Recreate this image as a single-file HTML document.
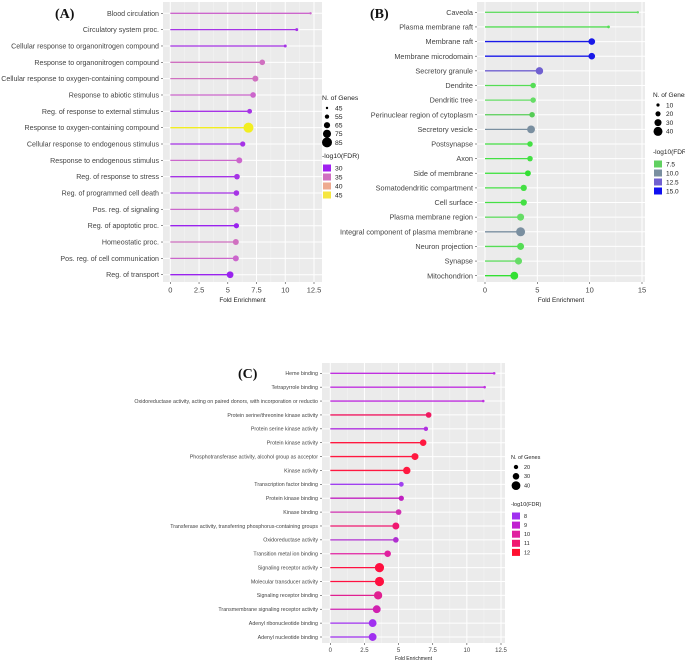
<!DOCTYPE html>
<html><head><meta charset="utf-8"><style>
body{margin:0;background:#fff}
svg{display:block;font-family:"Liberation Sans",sans-serif}
</style></head><body>
<svg id="s" width="685" height="664" viewBox="0 0 685 664"></svg>
<script>
// Panel A data
const catsA=["Blood circulation","Circulatory system proc.","Cellular response to organonitrogen compound","Response to organonitrogen compound","Cellular response to oxygen-containing compound","Response to abiotic stimulus","Reg. of response to external stimulus","Response to oxygen-containing compound","Cellular response to endogenous stimulus","Response to endogenous stimulus","Reg. of response to stress","Reg. of programmed cell death","Pos. reg. of signaling","Reg. of apoptotic proc.","Homeostatic proc.","Pos. reg. of cell communication","Reg. of transport"];
const foldA=[12.2,11.0,10.0,8.0,7.4,7.2,6.9,6.8,6.3,6.0,5.8,5.75,5.75,5.75,5.7,5.7,5.2];
const genesA=[45,48,48,62,64,62,58,85,60,64,62,62,64,60,64,64,68];
const colA=["#cc66cc","#a633e6","#a633e6","#d070c0","#d070c0","#cc66cc","#a633e6","#f2ee20","#a633e6","#cc66cc","#a633e6","#a633e6","#cc66cc","#9922ee","#d070c0","#cc66cc","#9922ee"];
const ticksA=[0,2.5,5,7.5,10,12.5];
// Panel B data
const catsB=["Caveola","Plasma membrane raft","Membrane raft","Membrane microdomain","Secretory granule","Dendrite","Dendritic tree","Perinuclear region of cytoplasm","Secretory vesicle","Postsynapse","Axon","Side of membrane","Somatodendritic compartment","Cell surface","Plasma membrane region","Integral component of plasma membrane","Neuron projection","Synapse","Mitochondrion"];
const foldB=[14.6,11.8,10.2,10.2,5.2,4.6,4.6,4.5,4.4,4.3,4.3,4.1,3.7,3.7,3.4,3.4,3.4,3.2,2.8];
const genesB=[6,8,28,28,32,22,22,22,34,22,22,24,26,26,30,40,30,30,34];
const colB=["#66dd66","#55dd55","#1818e8","#1818e8","#7060d0","#55dd55","#66dd66","#55cc55","#7a8fa0","#44e044","#44e044","#33e033","#44e044","#44e044","#66dd66","#7a8fa0","#55dd55","#66dd66","#33e033"];
const ticksB=[0,5,10,15];
// Panel C data
const catsC=["Heme binding","Tetrapyrrole binding","Oxidoreductase activity, acting on paired donors, with incorporation or reductio","Protein serine/threonine kinase activity","Protein serine kinase activity","Protein kinase activity","Phosphotransferase activity, alcohol group as acceptor","Kinase activity","Transcription factor binding","Protein kinase binding","Kinase binding","Transferase activity, transferring phosphorus-containing groups","Oxidoreductase activity","Transition metal ion binding","Signaling receptor activity","Molecular transducer activity","Signaling receptor binding","Transmembrane signaling receptor activity","Adenyl ribonucleotide binding","Adenyl nucleotide binding"];
const foldC=[12.0,11.3,11.2,7.2,7.0,6.8,6.2,5.6,5.2,5.2,5.0,4.8,4.8,4.2,3.6,3.6,3.5,3.4,3.1,3.1];
const genesC=[12,12,12,26,20,30,32,34,22,24,26,32,26,30,42,42,38,36,36,36];
const colC=["#c030e0","#c030e0","#c030e0","#f01860","#b030e0","#ff1840","#ff1840","#ff1840","#a040f0","#c020c0","#d030b0","#f01870","#b030d0","#e020a0","#ff1040","#ff1040","#e02090","#d020b0","#a030f0","#a030f0"];
const ticksC=[0,2.5,5,7.5,10,12.5];

const S=document.getElementById('s');
const NS="http://www.w3.org/2000/svg";
function mk(tag,at,txt){const e=document.createElementNS(NS,tag);for(const k in at)e.setAttribute(k,at[k]);if(txt!==undefined)e.textContent=txt;S.appendChild(e);return e;}

function panel(p){
  const sx=v=>p.x0+(v-p.d0)*(p.x1-p.x0)/(p.d1-p.d0);
  const n=p.cats.length;
  const sy=i=>p.y0+i*(p.yl-p.y0)/(n-1);
  const r=g=>p.rmin+(g-p.gmin)/(p.gmax-p.gmin)*(p.rmax-p.rmin);
  const bg=mk('rect',{x:p.L,y:p.T,width:p.R-p.L,height:p.B-p.T,fill:'#ebebeb'});
  
  
  for(let k=0;k<p.ticks.length-1;k++){const m=(p.ticks[k]+p.ticks[k+1])/2;mk('line',{x1:sx(m),x2:sx(m),y1:p.T,y2:p.B,stroke:'#f6f6f6','stroke-width':0.5});}
  p.ticks.forEach(t=>{
    mk('line',{x1:sx(t),x2:sx(t),y1:p.T,y2:p.B,stroke:'#fff','stroke-width':1});
    mk('line',{x1:sx(t),x2:sx(t),y1:p.B,y2:p.B+2,stroke:'#444','stroke-width':0.6});
    const tl=mk('text',{x:sx(t),y:p.B+p.fs+3,'font-size':p.fs,fill:'#444','text-anchor':'middle'},String(t));
    
    
  });
  p.cats.forEach((c,i)=>{
    const y=sy(i);
    mk('line',{x1:p.L,x2:p.R,y1:y,y2:y,stroke:'#fff','stroke-width':1});
    mk('line',{x1:p.L-2,x2:p.L,y1:y,y2:y,stroke:'#444','stroke-width':0.6});
    const lb=mk('text',{x:p.L-4,y:y+p.lfs*0.35,'font-size':p.lfs,fill:'#444','text-anchor':'end'},c);
    
    
    const ln=mk('line',{x1:sx(0),x2:sx(p.fold[i]),y1:y,y2:y,stroke:p.col[i],'stroke-width':1.3});
    
    
    const pt=mk('circle',{cx:sx(p.fold[i]),cy:y,r:r(p.genes[i]),fill:p.col[i]});
    
    
  });
  const xt=mk('text',{x:(p.L+p.R)/2,y:p.B+p.fs*2+5,'font-size':p.fs*0.85,fill:'#222','text-anchor':'middle'},'Fold Enrichment');
  
  
  const tt=mk('text',{x:p.tx,y:p.ty,'font-size':14,'font-weight':'bold','font-family':'Liberation Serif,serif',fill:'#111'},p.title);
  
  
  const lx=p.lx,lf=p.legFs;
  const g1=mk('text',{x:lx,y:p.ly1,'font-size':lf,fill:'#222'},'N. of Genes');
  
  
  p.sizeLeg.forEach((g,k)=>{
    const y=p.ly1+8+k*p.lstep;
    mk('circle',{cx:lx+5,cy:y,r:r(g),fill:'#000'});
    const t=mk('text',{x:lx+13,y:y+lf*0.35,'font-size':lf,fill:'#222'},String(g));
    
    
  });
  const g2=mk('text',{x:lx,y:p.ly2,'font-size':lf,fill:'#222'},'-log10(FDR)');
  
  
  p.colLeg.forEach((c,k)=>{
    const y=p.ly2+10+k*p.cstep;
    mk('rect',{x:lx+1,y:y-3.5,width:8,height:7,fill:c[1]});
    const t=mk('text',{x:lx+13,y:y+lf*0.35,'font-size':lf,fill:'#222'},c[0]);
    
    
  });
}
panel({id:'panel-a',title:'(A)',tx:55,ty:18,cats:catsA,fold:foldA,genes:genesA,col:colA,ticks:ticksA,
 L:163,R:322,T:2,B:282,x0:170.3,x1:314,d0:0,d1:12.5,y0:13.3,yl:274.7,fs:7.5,lfs:7.1,legFs:6.8,
 gmin:45,gmax:85,rmin:1.2,rmax:5,lx:322,ly1:100,lstep:8.6,sizeLeg:[45,55,65,75,85],ly2:158,cstep:9,
 colLeg:[["30","#a020f0"],["35","#d070c0"],["40","#eeaa90"],["45","#f5e640"]]});
panel({id:'panel-b',title:'(B)',tx:370,ty:18,cats:catsB,fold:foldB,genes:genesB,col:colB,ticks:ticksB,
 L:477,R:645,T:2,B:282,x0:485,x1:642,d0:0,d1:15,y0:12.3,yl:275.7,fs:7.5,lfs:7.3,legFs:6.5,
 gmin:6,gmax:40,rmin:1.2,rmax:4.5,lx:653,ly1:97,lstep:8.8,sizeLeg:[10,20,30,40],ly2:154,cstep:9,
 colLeg:[["7.5","#60d060"],["10.0","#7a8fa0"],["12.5","#7060d0"],["15.0","#1010f0"]]});
panel({id:'panel-c',title:'(C)',tx:238,ty:378,cats:catsC,fold:foldC,genes:genesC,col:colC,ticks:ticksC,
 L:322,R:505,T:363,B:643,x0:330.3,x1:501,d0:0,d1:12.5,y0:373.3,yl:637,fs:6,lfs:5.3,legFs:5.5,
 gmin:12,gmax:42,rmin:1.3,rmax:4.6,lx:511,ly1:459,lstep:9.3,sizeLeg:[20,30,40],ly2:506,cstep:9.1,
 colLeg:[["8","#a030f0"],["9","#c020d0"],["10","#e020a0"],["11","#f01870"],["12","#ff1030"]]});
</script>
</body></html>
